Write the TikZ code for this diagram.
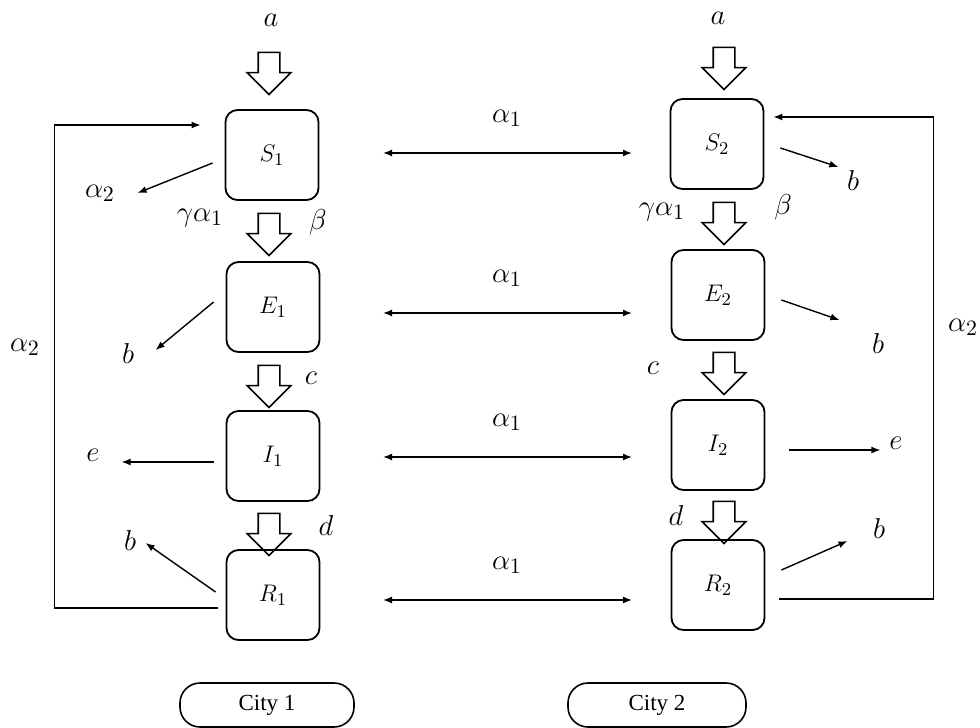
\documentclass[tikz,border=0pt]{standalone}
\usepackage{fontspec}
\setmainfont{Liberation Serif}
\usetikzlibrary{shapes.arrows,arrows.meta,calc}

\begin{document}
\begin{tikzpicture}[x=0.5pt,y=-0.5pt,
    comp/.style={draw, line width=0.9pt, rounded corners=6pt, minimum width=46.5pt,
      minimum height=45pt, font=\fontsize{13}{15}\selectfont},
    blockarr/.style={draw, line width=0.8pt, single arrow, shape border rotate=270,
      minimum height=21pt, inner xsep=5pt, inner ysep=0pt, single arrow head extend=5.5pt},
    lbl/.style={font=\fontsize{15}{18}\selectfont, inner sep=1pt},
    flow/.style={-{Latex[length=4.5pt,width=3.5pt]}, line width=0.7pt},
    both/.style={{Latex[length=4.5pt,width=3.5pt]}-{Latex[length=4.5pt,width=3.5pt]}, line width=0.7pt},
    city/.style={draw, line width=0.8pt, rounded corners=10pt, minimum width=87pt,
      minimum height=22pt, font=\fontsize{11.5}{13}\selectfont}]

    \useasboundingbox (0,0) rectangle (980,728);

    % Compartments of city 1
    \node[comp] (S1) at (272,155) {$S_1$};
    \node[comp] (E1) at (273,307) {$E_1$};
    \node[comp] (I1) at (273,456) {$I_1$};
    \node[comp] (R1) at (273,595) {$R_1$};

    % Compartments of city 2
    \node[comp] (S2) at (717,144) {$S_2$};
    \node[comp] (E2) at (718,295) {$E_2$};
    \node[comp] (I2) at (718,445) {$I_2$};
    \node[comp] (R2) at (718,585) {$R_2$};

    % Block arrows between stages
    \node[blockarr] (inL) at (269,68) {};
    \node[blockarr] (seL) at (269,229) {};
    \node[blockarr] (eiL) at (269,381) {};
    \node[blockarr] (irL) at (269,529) {};
    \node[blockarr] (inR) at (724,63) {};
    \node[blockarr] (seR) at (724,218) {};
    \node[blockarr] (eiR) at (724,368) {};
    \node[blockarr] (irR) at (724,517) {};

    % Rate labels
    \node[lbl] (aL) at (271,20) {$a$};
    \node[lbl] (aR) at (718,18) {$a$};
    \node[lbl] (gL) at (200,218) {$\gamma\alpha_1$};
    \node[lbl] (gR) at (662,212) {$\gamma\alpha_1$};
    \node[lbl] (bL) at (318,222) {$\beta$};
    \node[lbl] (bR) at (783,207) {$\beta$};
    \node[lbl] (cL) at (311,378) {$c$};
    \node[lbl] (cR) at (653,368) {$c$};
    \node[lbl] (dL) at (326,525) {$d$};
    \node[lbl] (dR) at (676,515) {$d$};

    % Outflows of city 1
    \node[lbl] (oS1) at (100,193) {$\alpha_2$};
    \node[lbl] (oE1) at (128,353) {$b$};
    \node[lbl] (oI1) at (93,455) {$e$};
    \node[lbl] (oR1) at (130,540) {$b$};
    \draw[flow] ($(S1.west)+(-12,8)$) -- ++(-75,30);
    \draw[flow] ($(E1.west)+(-12,-5)$) -- ++(-58,48);
    \draw[flow] ($(I1.west)+(-12,6)$) -- ++(-92,0);
    \draw[flow] ($(R1.west)+(-10,-3)$) -- ++(-70,-49);

    % Outflows of city 2
    \node[lbl] (oS2) at (853,180) {$b$};
    \node[lbl] (oE2) at (878,343) {$b$};
    \node[lbl] (oI2) at (896,443) {$e$};
    \node[lbl] (oR2) at (879,528) {$b$};
    \draw[flow] ($(S2.east)+(16,4)$) -- ++(58,19);
    \draw[flow] ($(E2.east)+(16,5)$) -- ++(58,20);
    \draw[flow] ($(I2.east)+(24,5)$) -- ++(91,0);
    \draw[flow] ($(R2.east)+(16,-15)$) -- ++(66,-29);

    % Return flows (recovered back to susceptible)
    \node[lbl] (rL) at (25,347) {$\alpha_2$};
    \node[lbl] (rR) at (963,327) {$\alpha_2$};
    \draw[flow] ($(R1.west)+(-8,13)$) -- ++(-163,0) |- ($(S1.west)+(-24,-30)$);
    \draw[flow] ($(R2.east)+(14,14)$) -- ++(154,0) |- ($(S2.east)+(9,-27)$);

    % Travel between the cities
    \foreach \i/\j/\y in {S1/S2/153, E1/E2/313, I1/I2/457, R1/R2/600} {
      \draw[both] (383,\y) -- (632,\y);
      \node[lbl] at (507,\y-35) {$\alpha_1$};
    }

    % City names
    \node[city] (c1) at (267,705) {City 1};
    \node[city, minimum width=89pt] (c2) at (657,705) {City 2};
  \end{tikzpicture}
\end{document}
